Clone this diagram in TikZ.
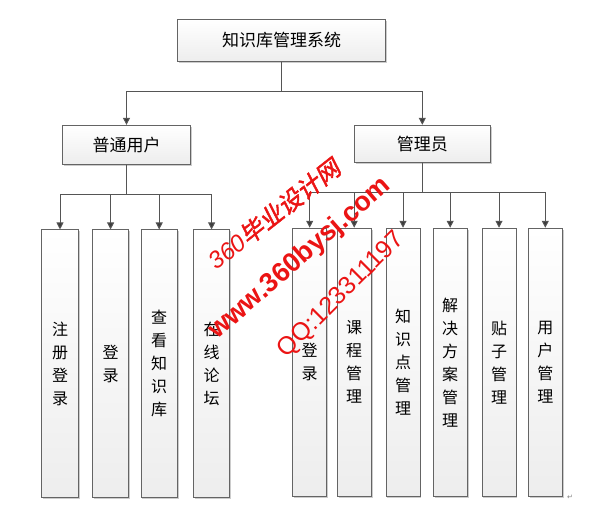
\documentclass[tikz,border=0pt]{standalone}
\usepackage{fontspec}
\newfontfamily\cjk{Noto Sans CJK SC}
\newfontfamily\wmfont{Liberation Sans}
\newfontfamily\wmcjk[FakeBold=2,FakeSlant=0.2]{Noto Sans CJK SC}
\newfontfamily\symfont{DejaVu Sans}
\usetikzlibrary{arrows.meta,shadows}
\definecolor{boxline}{RGB}{100,100,100}
\definecolor{connline}{RGB}{85,85,85}
\definecolor{tipgray}{RGB}{60,60,60}
\definecolor{wmred}{RGB}{235,20,20}

\begin{document}
\begin{tikzpicture}[x=1pt, y=-1pt,
    box/.style={draw=boxline, line width=0.9pt, top color=white, bottom color=gray!14,
        drop shadow={shadow xshift=1.3pt, shadow yshift=-1.3pt, fill=black!40},
        inner sep=0pt, font=\cjk\fontsize{17}{20}\selectfont},
    userleaf/.style={box, minimum width=36.5pt, minimum height=268pt, align=center,
        font=\cjk\fontsize{16}{23}\selectfont},
    adminleaf/.style={userleaf, minimum width=34pt},
    conn/.style={draw=connline, line width=1pt},
    arr/.style={conn, -{Triangle[width=7pt,length=7pt,fill=tipgray]}},
    wm/.style={text=wmred, inner sep=0pt}]

\useasboundingbox (0,0) rectangle (612,504);

% Top level
\node[box, minimum width=208pt, minimum height=42pt] (sys) at (281.6,40.5) {知识库管理系统};

% Second level: the two roles
\node[box, minimum width=128pt, minimum height=39pt] (user) at (126.5,144.8) {普通用户};
\node[box, minimum width=136pt, minimum height=37pt] (admin) at (422.3,143.8) {管理员};

% Bus points where the trunks split
\coordinate (sysbus) at (281.6,91.7);
\coordinate (userbus) at (126.5,194.3);
\coordinate (adminbus) at (422.3,192.5);

% Functions of the ordinary user
\node[userleaf] (reg) at (60,363.9) {注\\册\\登\\录};
\node[userleaf] (ulogin) at (110.6,363.9) {登\\录};
\node[userleaf] (view) at (159.2,363.9) {查\\看\\知\\识\\库};
\node[userleaf] (forum) at (211.6,363.9) {在\\线\\论\\坛};

% Functions of the administrator
\node[adminleaf] (alogin) at (309.7,362.2) {登\\录};
\node[adminleaf] (course) at (354.2,362.2) {课\\程\\管\\理};
\node[adminleaf] (know) at (403,362.2) {知\\识\\点\\管\\理};
\node[adminleaf] (plan) at (450.2,362.2) {解\\决\\方\\案\\管\\理};
\node[adminleaf] (post) at (499,362.2) {贴\\子\\管\\理};
\node[adminleaf] (uman) at (545.3,362.2) {用\\户\\管\\理};

% Connectors
\draw[arr] (sys.south) -- (sysbus) -| (user.north);
\draw[arr] (sysbus) -| (admin.north);
\foreach \n in {reg,ulogin,view,forum}
    \draw[arr] (user.south) -- (userbus) -| (\n.north);
\foreach \n in {alogin,course,know,plan,post,uman}
    \draw[arr] (admin.south) -- (adminbus) -| (\n.north);

% Watermark
\node[wm, rotate=38.3, font=\wmfont\itshape\fontsize{24}{24}\selectfont] (wmname) at (274,214) {360{\wmcjk 毕业设计网}};
\node[wm, rotate=41.1, font=\wmfont\bfseries\fontsize{27}{27}\selectfont] (wmsite) at (300,258.5) {www.360bysj.com};
\node[wm, rotate=45, font=\wmfont\fontsize{25}{25}\selectfont] (wmqq) at (341.5,295) {QQ:123311197};

% Paragraph mark
\node[text=gray, font=\symfont\fontsize{7}{7}\selectfont] (retmark) at (570,497) {↵};

\end{tikzpicture}
\end{document}
